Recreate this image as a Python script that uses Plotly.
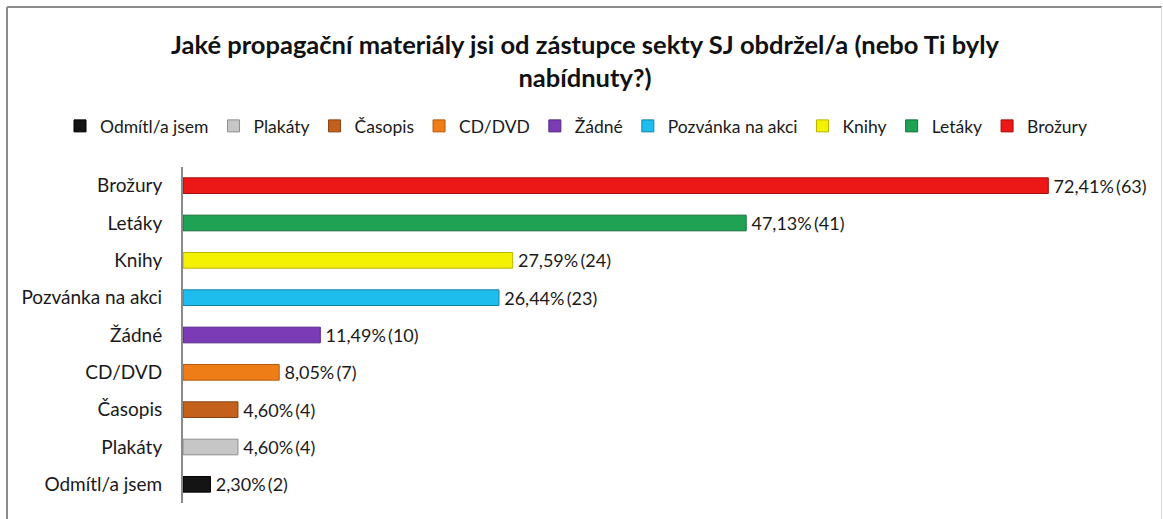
import plotly.graph_objects as go

# Data (bottom to top, i.e. legend order)
categories = ["Odmítl/a jsem", "Plakáty", "Časopis", "CD/DVD", "Žádné",
              "Pozvánka na akci", "Knihy", "Letáky", "Brožury"]
percents = [2.30, 4.60, 4.60, 8.05, 11.49, 26.44, 27.59, 47.13, 72.41]
counts = [2, 4, 4, 7, 10, 23, 24, 41, 63]
colors = ["#141414", "#C6C6C6", "#C2601C", "#EE7D17", "#7C3BB6",
          "#1DBDEE", "#F4F200", "#20A254", "#EC1717"]
line_colors = ["#000000", "#8E8E8E", "#8A4010", "#B85A0A", "#552585",
               "#1183A8", "#B8B400", "#137038", "#A80D0D"]

PLOT_L, PLOT_R, PLOT_T, PLOT_B = 183, 1139, 167, 503
W, H = 1163, 519
pw = PLOT_R - PLOT_L
ph = PLOT_B - PLOT_T

def px_x(x):
    return (x - PLOT_L) / pw

def px_y(y):
    return (PLOT_B - y) / ph

font_family = "Lato, 'Open Sans', sans-serif"

fig = go.Figure()
for cat, p, n, c, lc in zip(categories, percents, counts, colors, line_colors):
    label = "\u2009" + f"{p:.2f}".replace(".", ",") + "%\u2009(" + str(n) + ")"
    fig.add_trace(go.Bar(
        y=[cat], x=[p], orientation="h", name=cat,
        marker=dict(color=c, line=dict(color=lc, width=1)),
        text=[label], textposition="outside", cliponaxis=False,
        constraintext="none",
        textfont=dict(family=font_family, size=18, color="#1a1a1a"),
        hoverinfo="skip",
    ))

fig.update_layout(
    width=W, height=H,
    margin=dict(l=PLOT_L, r=W - PLOT_R, t=PLOT_T, b=H - PLOT_B, autoexpand=False),
    paper_bgcolor="white", plot_bgcolor="white",
    barmode="overlay", bargap=0.58,
    font=dict(family=font_family, size=19, color="#1a1a1a"),
    title=dict(
        text="<b>Jaké propagační materiály jsi od zástupce sekty SJ obdržel/a (nebo Ti byly<br>nabídnuty?)</b>",
        x=585 / W, xref="container", xanchor="center",
        y=1 - 54 / H, yref="container", yanchor="middle",
        font=dict(family=font_family, size=25.5, color="#111111"),
    ),
    legend=dict(
        orientation="h", x=px_x(60), xanchor="left",
        y=px_y(126), yanchor="middle",
        traceorder="normal", itemwidth=30,
        font=dict(family=font_family, size=17.5, color="#1a1a1a"),
        itemclick=False, itemdoubleclick=False,
    ),
    showlegend=True,
    xaxis=dict(range=[0, 80], showgrid=False, zeroline=False, showticklabels=False,
               showline=False, ticks=""),
    yaxis=dict(categoryorder="array", categoryarray=categories,
               showgrid=False, zeroline=False, showline=True, linecolor="#8a8a8a",
               linewidth=2, ticks="", ticklabelstandoff=15,
               tickfont=dict(family=font_family, size=19, color="#1a1a1a")),
    shapes=[
        dict(type="line", xref="paper", yref="paper",
             x0=px_x(7), x1=px_x(7), y0=px_y(7), y1=px_y(530),
             line=dict(color="#8c8c8c", width=2)),
        dict(type="line", xref="paper", yref="paper",
             x0=px_x(7), x1=px_x(1162), y0=px_y(7), y1=px_y(7),
             line=dict(color="#8c8c8c", width=2)),
        dict(type="line", xref="paper", yref="paper",
             x0=px_x(1161.5), x1=px_x(1161.5), y0=px_y(7), y1=px_y(530),
             line=dict(color="#d8d8d8", width=1)),
    ],
)

fig.write_html("out.html", config={"displayModeBar": False},
               post_script="document.body.style.margin='0';document.body.style.overflow='hidden';")
